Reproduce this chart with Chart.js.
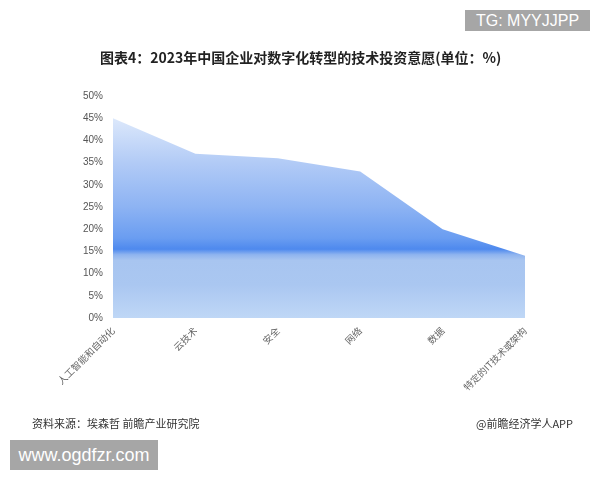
<!DOCTYPE html>
<html>
<head>
<meta charset="utf-8">
<script src="https://cdn.jsdelivr.net/npm/chart.js@4"></script>
<style>
    body { margin: 0; background: #fff; font-family: "Noto Sans CJK SC", sans-serif; }
    #wrap { position: relative; width: 600px; height: 480px; overflow: hidden; }
    #chart { position: absolute; left: 0; top: 0; }
    .txt { position: absolute; white-space: nowrap; }
    #title { left: 100px; top: 47px; font-size: 14px; font-weight: bold; color: #222; }
    #source { left: 32px; top: 415px; font-size: 11px; color: #333; }
    #app { left: 476px; top: 415px; font-size: 11px; color: #333; }
    .mark { position: absolute; background: #a6a6a6; color: #fff; font-family: "Liberation Sans", sans-serif; text-align: center; }
    #tg { left: 465px; top: 10px; width: 125px; height: 21px; line-height: 21px; font-size: 16px; }
    #www { left: 10px; top: 440px; width: 148px; height: 30px; line-height: 30px; font-size: 18px; }
</style>
</head>
<body>
<div id="wrap">
    <canvas id="chart" width="600" height="480"></canvas>
    <div class="txt" id="title">图表4：2023年中国企业对数字化转型的技术投资意愿(单位：%)</div>
    <div class="txt" id="source">资料来源：埃森哲 前瞻产业研究院</div>
    <div class="txt" id="app">@前瞻经济学人APP</div>
    <div class="mark" id="tg">TG: MYYJJPP</div>
    <div class="mark" id="www">www.ogdfzr.com</div>
</div>
<script>
const categories = ['人工智能和自动化', '云技术', '安全', '网络', '数据', '特定的IT技术或架构'];
const willingness = [45, 37, 36, 33, 20, 14];
const yTicks = [0, 5, 10, 15, 20, 25, 30, 35, 40, 45, 50];


function areaFill(context)
{
    const area = context.chart.chartArea;
    if (!area) {
        return '#8cb3f2';
    }
    const g = context.chart.ctx.createLinearGradient(0, area.top, 0, area.bottom);
    g.addColorStop(0.00, '#f0f5fd');
    g.addColorStop(0.10, '#dce8fb');
    g.addColorStop(0.30, '#b2cbf6');
    g.addColorStop(0.50, '#8db3f3');
    g.addColorStop(0.64, '#6a9df1');
    g.addColorStop(0.69, '#4e89ee');
    g.addColorStop(0.715, '#8fb4ef');
    g.addColorStop(0.74, '#a8c5f0');
    g.addColorStop(0.85, '#aac7f1');
    g.addColorStop(1.00, '#bfd7f6');
    return g;
}


const config =
{
    type: 'line',
    data:
    {
        labels: categories,
        datasets:
        [{
            data: willingness,
            fill: 'origin',
            backgroundColor: areaFill,
            borderWidth: 0,
            pointRadius: 0,
            tension: 0
        }]
    },
    options:
    {
        responsive: false,
        animation: false,
        layout: { padding: { top: 96, right: 75, left: 0, bottom: 0 } },
        plugins: { legend: { display: false }, tooltip: { enabled: false } },
        scales:
        {
            x:
            {
                offset: false,
                grid: { display: false, drawTicks: false },
                border: { display: false },
                ticks:
                {
                    color: '#666',
                    font: { size: 9.5, family: 'Noto Sans CJK SC' },
                    minRotation: 45,
                    maxRotation: 45,
                    padding: 7
                },
                afterFit: (scale) => { scale.height = 162; }
            },
            y:
            {
                min: 0,
                max: 50,
                afterBuildTicks: (scale) => { scale.ticks = yTicks.map(v => ({ value: v })); },
                grid: { display: false, drawTicks: false },
                border: { display: false },
                ticks:
                {
                    color: '#555',
                    font: { size: 10, family: 'Liberation Sans' },
                    padding: 10,
                    callback: (v) => v + '%'
                },
                afterFit: (scale) => { scale.width = 113; }
            }
        }
    }
};


new Chart(document.getElementById('chart'), config);
</script>
</body>
</html>
